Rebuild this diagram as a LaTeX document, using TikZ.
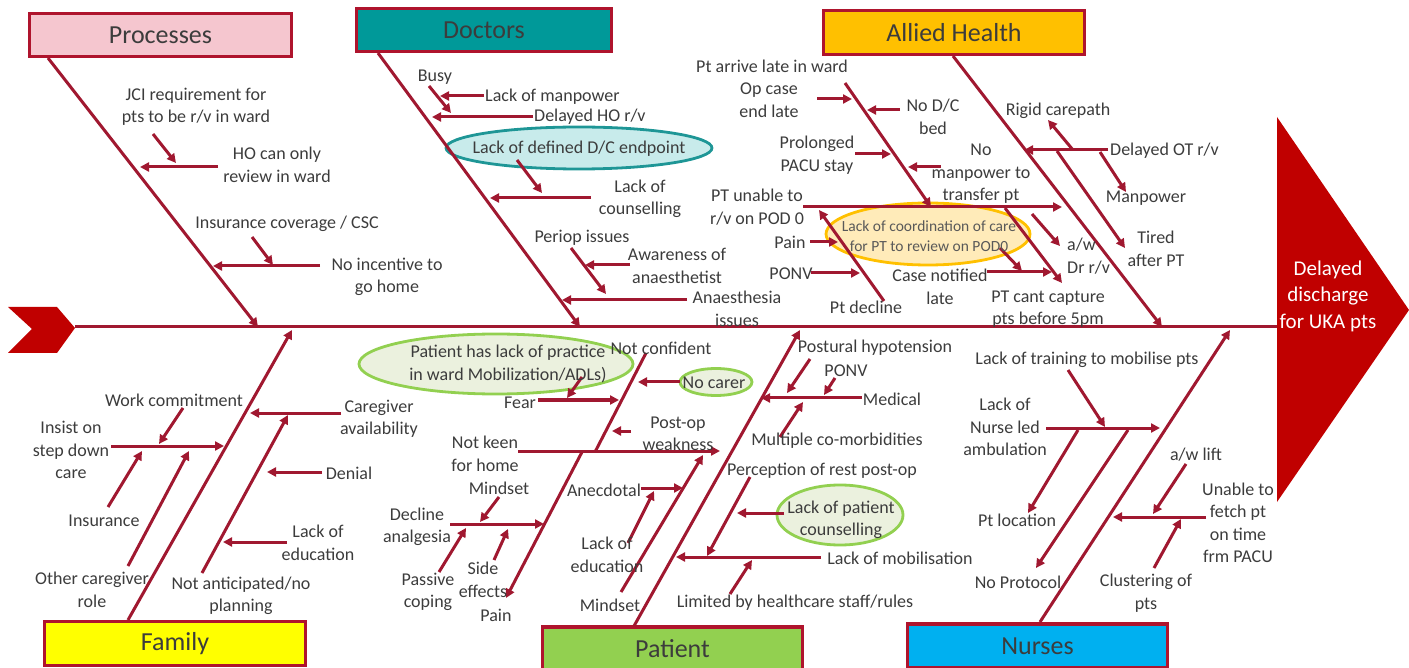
\documentclass[tikz,border=0pt]{standalone}
\usepackage{fontspec}
\setmainfont{Carlito}
\usetikzlibrary{arrows.meta,shapes.geometric}
\definecolor{ln}{RGB}{160,24,48}
\definecolor{bd}{RGB}{175,20,45}
\definecolor{txt}{RGB}{60,60,60}
\definecolor{procfill}{RGB}{245,198,207}
\definecolor{docfill}{RGB}{0,153,153}
\definecolor{allfill}{RGB}{255,192,0}
\definecolor{famfill}{RGB}{255,255,0}
\definecolor{patfill}{RGB}{146,208,80}
\definecolor{nurfill}{RGB}{0,176,240}
\definecolor{headred}{RGB}{192,0,0}
\definecolor{tealpale}{RGB}{200,235,235}
\definecolor{tealbd}{RGB}{30,150,150}
\definecolor{orpale}{RGB}{255,235,185}
\definecolor{grpale}{RGB}{235,241,222}
\definecolor{grbd}{RGB}{146,208,80}
\newcommand{\myarrow}[4][arr]{\coordinate (#2a) at (#3); \coordinate (#2b) at (#4); \draw[#1] (#2a) -- (#2b);}
\tikzset{
 lbl/.style={font=\fontsize{18}{22.5}\selectfont, text=txt, align=center, inner sep=0pt},
 arr/.style={draw=ln, line width=3pt, -{Triangle[length=9pt,width=9pt]}},
 plainln/.style={draw=ln, line width=3pt},
 hdr/.style={draw=bd, line width=3.5pt, font=\fontsize{26}{30}\selectfont, text=txt, inner sep=0pt},
 oval/.style={ellipse, line width=2.8pt, inner sep=0pt},
}
\begin{document}
\begin{tikzpicture}[x=1pt,y=-1pt]
\useasboundingbox (0,0) rectangle (1409,668);
\clip (0,0) rectangle (1409,668);
% head and tail
\fill[headred] (1277,117) -- (1409,310) -- (1277,502) -- cycle;
\node[font=\fontsize{21}{26.5}\selectfont, text=white, align=center, inner sep=0pt] (head) at (1328,296) {Delayed\\discharge\\for UKA pts};
\fill[headred] (8,307) -- (57,307) -- (75,328) -- (57,353) -- (8,353) -- (32,329) -- cycle;
\coordinate (tail) at (75,327);
\coordinate (headl) at (1277,327);
\draw[plainln] (tail) -- (headl);
% headers
\node[hdr, fill=procfill, minimum width=262pt, minimum height=43pt] (proc) at (160.5,35) {Processes};
\node[hdr, fill=docfill, minimum width=255pt, minimum height=43pt] (doc) at (484,30) {Doctors};
\node[hdr, fill=allfill, minimum width=261pt, minimum height=44pt] (allied) at (954,32.5) {Allied Health};
\node[hdr, fill=famfill, minimum width=261pt, minimum height=44pt] (fam) at (175,643.5) {Family};
\node[hdr, fill=patfill, minimum width=260pt, minimum height=44pt] (pat) at (672.5,649) {Patient};
\node[hdr, fill=nurfill, minimum width=260pt, minimum height=44pt] (nur) at (1037.5,646) {Nurses};
% ellipses
\node[oval, draw=tealbd, fill=tealpale, minimum width=266pt, minimum height=42pt] (eDC) at (579,148) {};
\node[oval, draw=allfill, fill=orpale, minimum width=204pt, minimum height=62pt] (eCo) at (928,234) {};
\node[oval, draw=grbd, fill=grpale, minimum width=274pt, minimum height=60pt] (ePr) at (496,364) {};
\node[oval, draw=grbd, fill=grpale, minimum width=72pt, minimum height=27pt] (eNC) at (716,382) {};
\node[oval, draw=grbd, fill=grpale, minimum width=126pt, minimum height=60pt] (eLPC) at (840,515) {};
% ---------- Processes
\myarrow{P1}{48,58}{258,327}
\myarrow{P2}{153,134}{176,163}
\myarrow{P3}{218,167}{140,167}
\myarrow{P4}{252,237}{273,265}
\myarrow{P5}{320,266}{213,266}
\node[lbl] (jci) at (196,107) {JCI requirement for\\pts to be r/v in ward};
\node[lbl] (ho) at (277,165) {HO can only\\review in ward};
\node[lbl] (ins) at (287,224) {Insurance coverage / CSC};
\node[lbl] (noinc) at (387,277) {No incentive to\\go home};
% ---------- Doctors
\myarrow{D1}{378,53}{580,327}
\myarrow{D2}{429,86}{451,113}
\myarrow{D3}{484,96}{440,96}
\myarrow{D4}{533,117}{432,117}
\myarrow{D5}{517,160}{542,193}
\myarrow{D6}{591,198}{490,198}
\myarrow{D7}{571,248}{606,294}
\myarrow{D8}{630,265}{585,265}
\myarrow{D9}{687,300}{562,300}
\node[lbl] (busy) at (435,77) {Busy};
\node[lbl, anchor=west] (lom) at (485,97) {Lack of manpower};
\node[lbl, anchor=west] (dho) at (534,117) {Delayed HO r/v};
\node[lbl] (eDCt) at (579,149) {Lack of defined D/C endpoint};
\node[lbl] (loc) at (640,199) {Lack of\\counselling};
\node[lbl] (peri) at (582,238) {Periop issues};
\node[lbl] (awa) at (677,266) {Awareness of\\anaesthetist};
\node[lbl] (ana) at (737,309) {Anaesthesia\\issues};
% ---------- Allied Health
\myarrow{A1}{953,56}{1162,327}
\myarrow{A2}{845,83}{931,207}
\myarrow{A3}{803,207}{1062,207}
\myarrow{A4}{817,99}{852,99}
\myarrow{A5}{900,110}{867,110}
\myarrow{A6}{855,154}{891,154}
\myarrow{A7}{941,167}{908,167}
\myarrow{A8}{810,242}{838,242}
\myarrow{A9}{811,273}{860,273}
\myarrow{A10}{884,301}{819,210}
\myarrow{A11}{1000,248}{1022,271}
\myarrow{A12}{987,272}{1052,272}
\myarrow{A13}{1005,208}{1062,283}
\myarrow{A14}{1032,214}{1060,246}
\myarrow{A15}{1108,150}{1024,150}
\myarrow{A16}{1073,150}{1048,120}
\myarrow{A17}{1100,152}{1126,192}
\myarrow{A18}{1057,151}{1125,248}
\node[lbl] (pal) at (772,66) {Pt arrive late in ward};
\node[lbl] (opc) at (769,100) {Op case\\end late};
\node[lbl] (nodc) at (933,117) {No D/C\\bed};
\node[lbl] (pacu) at (817,155) {Prolonged\\PACU stay};
\node[lbl] (nomp) at (981,174) {No\\manpower to\\transfer pt};
\node[lbl] (ptun) at (757,207) {PT unable to\\r/v on POD 0};
\node[lbl, font=\fontsize{15.5}{19.5}\selectfont, text=txt!85] (eCot) at (929,236) {Lack of coordination of care\\for PT to review on POD0};
\node[lbl] (pain1) at (790,242) {Pain};
\node[lbl] (ponv1) at (791,274) {PONV};
\node[lbl] (ptd) at (866,307) {Pt decline};
\node[lbl] (cnl) at (940,287) {Case notified\\late};
\node[lbl] (ptc) at (1048,309) {PT cant capture\\pts before 5pm};
\node[lbl, anchor=west, align=left] (awdr) at (1067,256) {a/w\\Dr r/v};
\node[lbl] (rigid) at (1058,111) {Rigid carepath};
\node[lbl, anchor=west] (dot) at (1110,151) {Delayed OT r/v};
\node[lbl] (mp) at (1146,198) {Manpower};
\node[lbl] (tired) at (1156,249) {Tired\\after PT};
% ---------- Family
\myarrow{F1}{128,620}{292,330}
\myarrow{F2}{183,408}{159,444}
\myarrow{F3}{111,446}{224,446}
\myarrow{F4}{108,507}{142,451}
\myarrow{F5}{128,566}{189,451}
\myarrow{F6}{341,413}{250,413}
\myarrow{F7}{202,573}{288,415}
\myarrow{F8}{322,472}{267,472}
\myarrow{F9}{287,542}{223,542}
\node[lbl] (wc) at (174,400) {Work commitment};
\node[lbl] (isd) at (71,450) {Insist on\\step down\\care};
\node[lbl] (insu) at (104,521) {Insurance};
\node[lbl] (ocr) at (92,590) {Other caregiver\\role};
\node[lbl] (cav) at (379,419) {Caregiver\\availability};
\node[lbl] (nap) at (241,596) {Not anticipated/no\\planning};
\node[lbl] (den) at (349,473) {Denial};
\node[lbl] (loe1) at (318,543) {Lack of\\education};
% ---------- Patient
\myarrow{T1}{634,626}{800,330}
\myarrow[plainln]{T2}{646,353}{595,452}
\myarrow{T3}{680,382}{638,382}
\myarrow{T4}{538,400}{619,400}
\myarrow{T5}{582,377}{567,398}
\myarrow{T6}{631,431}{612,431}
\myarrow{T7}{518,451}{720,451}
\myarrow{T8}{582,452}{506,598}
\myarrow{T9}{499,497}{480,522}
\myarrow{T10}{450,524}{544,524}
\myarrow{T11}{439,572}{466,528}
\myarrow{T12}{494,560}{508,529}
\myarrow{T13}{641,488}{683,488}
\myarrow{T14}{628,543}{654,491}
\myarrow{T15}{621,592}{703,455}
\myarrow{T16}{750,477}{707,556}
\myarrow{T17}{784,513}{737,513}
\myarrow{T18}{821,557}{676,557}
\myarrow{T19}{730,594}{752,560}
\myarrow{T20}{810,359}{787,393}
\myarrow{T21}{835,378}{824,395}
\myarrow{T22}{862,398}{761,398}
\myarrow{T23}{780,437}{803,402}
\node[lbl] (ePrt) at (508,364) {Patient has lack of practice\\in ward Mobilization/ADLs)};
\node[lbl] (ncf) at (661,348) {Not confident};
\node[lbl] (eNCt) at (714,383) {No carer};
\node[lbl] (fear) at (520,403) {Fear};
\node[lbl] (pow) at (678,434) {Post-op\\weakness};
\node[lbl] (nk) at (485,454) {Not keen\\for home};
\node[lbl] (ms1) at (499,488) {Mindset};
\node[lbl] (dan) at (417,527) {Decline\\analgesia};
\node[lbl] (pco) at (428,592) {Passive\\coping};
\node[lbl] (sef) at (483,580) {Side\\effects};
\node[lbl] (pain2) at (496,615) {Pain};
\node[lbl] (anec) at (604,490) {Anecdotal};
\node[lbl] (loe2) at (607,555) {Lack of\\education};
\node[lbl] (ms2) at (610,605) {Mindset};
\node[lbl] (phy) at (875,348) {Postural hypotension};
\node[lbl] (ponv2) at (846,371) {PONV};
\node[lbl] (med) at (892,399) {Medical};
\node[lbl] (mcm) at (837,441) {Multiple co-morbidities};
\node[lbl] (pre) at (822,471) {Perception of rest post-op};
\node[lbl] (eLPCt) at (841,520) {Lack of patient\\counselling};
\node[lbl] (lmob) at (900,558) {Lack of mobilisation};
\node[lbl] (lim) at (795,603) {Limited by healthcare staff/rules};
% ---------- Nurses
\myarrow{N1}{1040,622}{1230,330}
\myarrow{N2}{1068,370}{1105,427}
\myarrow{N3}{1046,428}{1160,428}
\myarrow{N4}{1078,430}{1028,513}
\myarrow{N5}{1128,430}{1036,568}
\myarrow{N6}{1186,464}{1153,514}
\myarrow{N7}{1206,517}{1113,517}
\myarrow{N8}{1154,568}{1181,519}
\node[lbl] (ltr) at (1087,360) {Lack of training to mobilise pts};
\node[lbl] (lnl) at (1005,427) {Lack of\\Nurse led\\ambulation};
\node[lbl] (ptl) at (1017,520) {Pt location};
\node[lbl] (npr) at (1018,582) {No Protocol};
\node[lbl] (awl) at (1196,455) {a/w lift};
\node[lbl] (utf) at (1238,523) {Unable to\\fetch pt\\on time\\frm PACU};
\node[lbl] (clu) at (1146,593) {Clustering of\\pts};
\end{tikzpicture}
\end{document}
